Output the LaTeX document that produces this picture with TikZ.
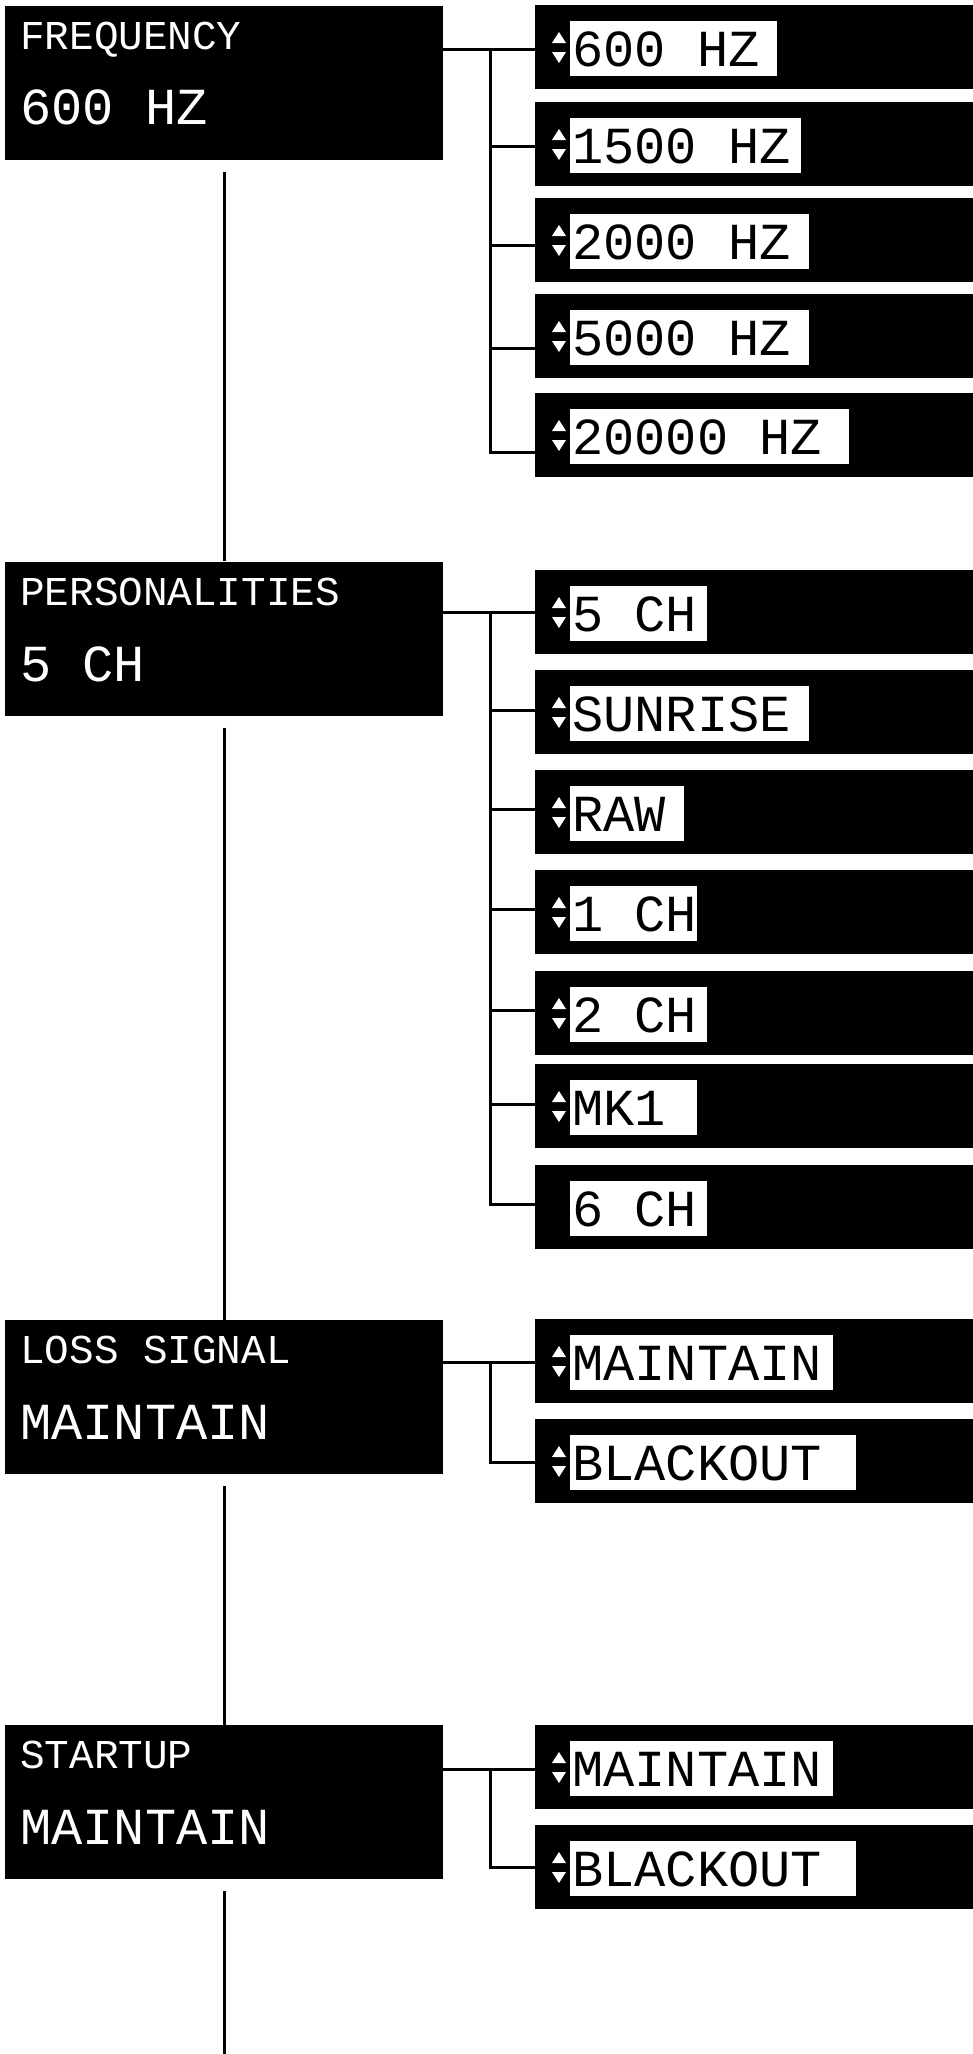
\documentclass[tikz,border=0pt]{standalone}
\usepackage{fontspec}
\setmonofont{Liberation Mono}
\usetikzlibrary{calc}

\newcommand{\titlefont}{\ttfamily\fontsize{41}{41}\selectfont}
\newcommand{\valfont}{\ttfamily\fontsize{52}{52}\selectfont}

\begin{document}
\begin{tikzpicture}[x=1pt,y=-1pt,
  menubox/.style={fill=black,minimum width=438pt,minimum height=154pt,inner sep=0pt},
  optbox/.style={fill=black,minimum width=438pt,minimum height=84pt,inner sep=0pt},
  valbox/.style={fill=white,anchor=north west,minimum height=55pt,inner sep=0pt},
  titletext/.style={anchor=base west,inner sep=0pt,text=white,font=\titlefont},
  valtext/.style={anchor=base west,inner sep=0pt,font=\valfont},
  link/.style={line width=3pt}]

\useasboundingbox (0,0) rectangle (973,2054);

% Menu boxes
\node[menubox] (freq) at (224,82.5) {};
\node[menubox] (pers) at (224,638.5) {};
\node[menubox] (loss) at (224,1397) {};
\node[menubox] (start) at (224,1802) {};

\node[titletext] (freqT) at (20,49) {FREQUENCY};
\node[titletext] (persT) at (20,605) {PERSONALITIES};
\node[titletext] (lossT) at (20,1363) {LOSS SIGNAL};
\node[titletext] (startT) at (20,1768) {STARTUP};

\node[valtext,text=white] (freqV) at (20,124) {600 HZ};
\node[valtext,text=white] (persV) at (20,681) {5 CH};
\node[valtext,text=white] (lossV) at (20,1439) {MAINTAIN};
\node[valtext,text=white] (startV) at (20,1844) {MAINTAIN};

% Trunk
\coordinate (trunkend) at (224,2054);
\draw[link] ([yshift=-12pt]freq.south) -- (pers.north);
\draw[link] ([yshift=-12pt]pers.south) -- (loss.north);
\draw[link] ([yshift=-12pt]loss.south) -- (start.north);
\draw[link] ([yshift=-12pt]start.south) -- (trunkend);

% Option boxes
\foreach \n/\t/\txt/\w/\a in {f1/5/600 HZ/207/1, f2/102/1500 HZ/231/1,
  f3/198/2000 HZ/239/1, f4/294/5000 HZ/239/1, f5/393/20000 HZ/279/1,
  p1/570/5 CH/137/1, p2/670/SUNRISE/239/1, p3/770/RAW/114/1,
  p4/870/1 CH/127/1, p5/971/2 CH/137/1, p6/1064/MK1/127/1, p7/1165/6 CH/137/0,
  l1/1319/MAINTAIN/263/1, l2/1419/BLACKOUT/286/1,
  s1/1725/MAINTAIN/263/1, s2/1825/BLACKOUT/286/1}
{
\node[optbox] (\n) at (754,{\t+42}) {};
\node[valbox,minimum width=\w pt] (\n W) at (570,{\t+16}) {};
\node[valtext] (\n T) at (572,{\t+61}) {\txt};
\ifnum\a=1
\fill[white] (552,{\t+38}) -- (566,{\t+38}) -- (559,{\t+27}) -- cycle;
\fill[white] (552,{\t+47}) -- (566,{\t+47}) -- (559,{\t+58}) -- cycle;
\fi
}

% Frequency links
\draw[link] (freq.east |- 0,49) -- (f1.west |- 0,49);
\draw[link] (490,49) -- (490,452) -- (f5.west |- 0,452);
\foreach \n/\l in {f2/146,f3/245,f4/348}
\draw[link] (490,\l) -- (\n.west |- 0,\l);

% Personality links
\draw[link] (pers.east |- 0,612) -- (p1.west |- 0,612);
\draw[link] (490,612) -- (490,1204) -- (p7.west |- 0,1204);
\foreach \n/\l in {p2/710,p3/809,p4/909,p5/1010,p6/1104}
\draw[link] (490,\l) -- (\n.west |- 0,\l);

% Loss signal links
\draw[link] (loss.east |- 0,1362) -- (l1.west |- 0,1362);
\draw[link] (490,1362) -- (490,1462) -- (l2.west |- 0,1462);

% Startup links
\draw[link] (start.east |- 0,1769) -- (s1.west |- 0,1769);
\draw[link] (490,1769) -- (490,1867) -- (s2.west |- 0,1867);

\end{tikzpicture}
\end{document}
